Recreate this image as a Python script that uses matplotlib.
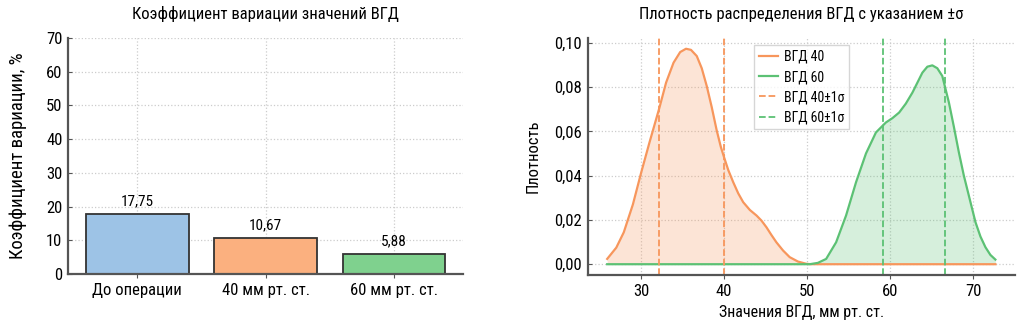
import matplotlib
matplotlib.use("Agg")
import matplotlib.pyplot as plt
from matplotlib.ticker import FuncFormatter

plt.rcParams['font.family'] = ['Roboto Condensed', 'DejaVu Sans']

# bar chart data
groups = ["До операции", "40 мм рт. ст.", "60 мм рт. ст."]
cv_values = [17.75, 10.67, 5.88]
bar_colors = ["#9dc3e6", "#fbb07f", "#7fd18e"]

# density curves
x_40 = [25.9, 27.0, 27.9, 29.0, 30.0, 31.0, 32.2, 33.0, 33.9, 34.7, 35.4, 36.0, 36.7,
        37.3, 37.9, 38.5, 39.1, 39.6, 40.0, 40.5, 41.1, 41.7, 42.3, 43.1, 43.9, 44.5,
        45.1, 45.7, 46.3, 47.1, 47.9, 48.9, 49.9, 50.5, 52.0, 56.0, 60.0, 64.0, 68.0, 72.7]
y_40 = [0.0024, 0.0075, 0.0144, 0.027, 0.0414, 0.055, 0.0707, 0.082, 0.091, 0.0958,
        0.0973, 0.0968, 0.094, 0.0885, 0.0805, 0.071, 0.0605, 0.053, 0.0482, 0.0425,
        0.037, 0.032, 0.028, 0.0245, 0.022, 0.0197, 0.0167, 0.0132, 0.0099, 0.0062,
        0.0032, 0.0012, 0.0002, 0.0, 0.0, 0.0, 0.0, 0.0, 0.0, 0.0]
x_60 = [25.9, 30.0, 35.0, 40.0, 45.0, 50.3, 51.3, 52.3, 53.5, 54.7, 55.9, 57.1, 58.3,
        59.5, 60.3, 61.1, 61.9, 62.7, 63.3, 63.9, 64.5, 65.1, 65.7, 66.3, 67.1, 67.7,
        68.3, 68.9, 69.5, 70.3, 70.9, 71.5, 72.1, 72.7]
y_60 = [0.0, 0.0, 0.0, 0.0, 0.0, 0.0, 0.0006, 0.0024, 0.0099, 0.022, 0.037, 0.050,
        0.0595, 0.064, 0.066, 0.0685, 0.0725, 0.0775, 0.082, 0.0865, 0.0892, 0.0898,
        0.0885, 0.085, 0.073, 0.062, 0.0505, 0.040, 0.031, 0.019, 0.0125, 0.0077,
        0.0042, 0.0021]
sigma_40 = [32.2, 40.0]
sigma_60 = [59.2, 66.6]

orange = "#f7965c"
green = "#5cc174"

fig = plt.figure(figsize=(10.24, 3.28), dpi=100)
ax1 = fig.add_axes([0.0664, 0.1646, 0.386, 0.7195])
ax2 = fig.add_axes([0.574, 0.1616, 0.417, 0.7226])

for ax in (ax1, ax2):
    for side in ("top", "right"):
        ax.spines[side].set_visible(False)
    for side in ("left", "bottom"):
        ax.spines[side].set_color("#555555")
        ax.spines[side].set_linewidth(1.6)
    ax.grid(True, linestyle=":", color="#cccccc", linewidth=0.9)
    ax.set_axisbelow(True)
    ax.tick_params(axis="y", direction="in", length=3, color="#555555", labelsize=12, pad=4)
    ax.tick_params(axis="x", length=3, color="#555555", labelsize=12)

# left: coefficient of variation
pos = range(len(groups))
bars = ax1.bar(pos, cv_values, width=0.8, color=bar_colors, edgecolor="#333333", linewidth=1.3)
for b, v in zip(bars, cv_values):
    ax1.text(b.get_x() + b.get_width() / 2, v + 1.6, f"{v:.2f}".replace(".", ","),
             ha="center", va="bottom", fontsize=11)
ax1.set_xticks(list(pos))
ax1.set_xticklabels(groups)
ax1.set_xlim(-0.54, 2.54)
ax1.set_ylim(0, 70)
ax1.set_yticks(range(0, 71, 10))
ax1.set_ylabel("Коэффициент вариации, %", fontsize=13.5, labelpad=14)
ax1.set_title("Коэффициент вариации значений ВГД", fontsize=12, pad=14)

# right: density
ax2.plot(x_40, y_40, color=orange, linewidth=1.6, label="ВГД 40")
ax2.fill_between(x_40, y_40, color=orange, alpha=0.25, linewidth=0)
ax2.plot(x_60, y_60, color=green, linewidth=1.6, label="ВГД 60")
ax2.fill_between(x_60, y_60, color=green, alpha=0.25, linewidth=0)
for i, s in enumerate(sigma_40):
    ax2.axvline(s, color=orange, linestyle="--", linewidth=1.3,
                label="ВГД 40±1σ" if i == 0 else None)
for i, s in enumerate(sigma_60):
    ax2.axvline(s, color=green, linestyle="--", linewidth=1.3,
                label="ВГД 60±1σ" if i == 0 else None)
ax2.yaxis.set_major_formatter(FuncFormatter(lambda v, p: f"{v:.2f}".replace(".", ",")))
ax2.set_xticks([30, 40, 50, 60, 70])
ax2.set_ylabel("Плотность", fontsize=12, labelpad=10)
ax2.set_xlabel("Значения ВГД, мм рт. ст.", fontsize=11.5)
ax2.set_title("Плотность распределения ВГД с указанием ±σ", fontsize=12, pad=14)
leg = ax2.legend(loc="upper center", fontsize=10, frameon=True, fancybox=False,
                 handlelength=1.4, handletextpad=0.4, borderpad=0.35, labelspacing=0.45)
leg.get_frame().set_edgecolor("#cccccc")

fig.savefig("out.png", dpi=100)
